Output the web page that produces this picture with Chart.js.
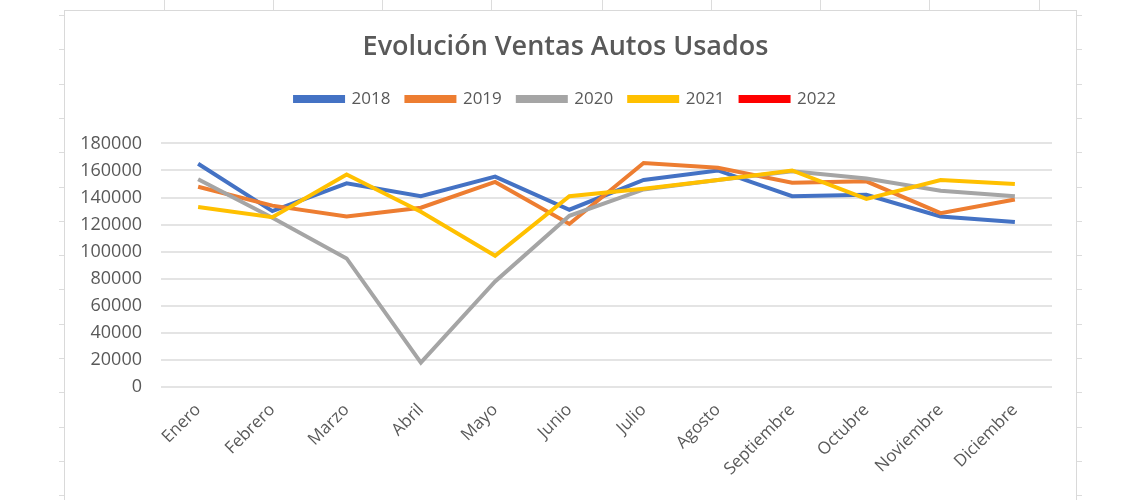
<!DOCTYPE html>
<html lang="es">
<head>
<meta charset="utf-8">
<title>Evolución Ventas Autos Usados</title>
<script src="https://cdn.jsdelivr.net/npm/chart.js@4.4.1/dist/chart.umd.min.js"></script>
<style>
    html, body { margin: 0; padding: 0; background: #fff; }
    body { width: 1140px; height: 500px; position: relative; overflow: hidden; }
    .hoja { position: absolute; background: #dcdcdc; }
    #marco {
        position: absolute; left: 64px; top: 10px; width: 1013px; height: 495px;
        border: 1px solid #d9d9d9; box-sizing: border-box; background: #fff;
    }
    #grafico { position: absolute; left: 0; top: 0; width: 1011px; height: 490px; }
</style>
</head>
<body>
<div id="marco"><div id="grafico"><canvas id="chart-ventas"></canvas></div></div>

<script>
// Datos
const meses = ['Enero', 'Febrero', 'Marzo', 'Abril', 'Mayo', 'Junio', 'Julio', 'Agosto', 'Septiembre', 'Octubre', 'Noviembre', 'Diciembre'];
const anios = ['2018', '2019', '2020', '2021', '2022'];
const ventas2018 = [165000, 130000, 150500, 141000, 155500, 131000, 153000, 160000, 141000, 142000, 126000, 122000];
const ventas2019 = [148000, 134000, 126000, 132500, 151500, 120500, 165500, 162000, 151000, 152000, 128500, 138500];
const ventas2020 = [153500, 125000, 95000, 18000, 78000, 126500, 146000, 153000, 159500, 154000, 145000, 141000];
const ventas2021 = [133000, 125500, 157000, 129500, 97000, 141000, 146500, 153000, 160000, 139000, 153000, 150000];
const ventas2022 = [];
const yMin = 0;
const yMax = 180000;
const yPaso = 20000;

const colores = ['#4472C4', '#ED7D31', '#A5A5A5', '#FFC000', '#FF0000'];
const series = [ventas2018, ventas2019, ventas2020, ventas2021, ventas2022];
const gris = '#595959';
const fuente = "'Open Sans', 'Noto Sans', sans-serif";

// Lineas de la hoja de cálculo alrededor del gráfico (decorativo)
function dibujarHoja() {
    const columnas = [164, 273, 382, 491, 602, 711, 820, 929, 1039];
    columnas.forEach(x => {
        const d = document.createElement('div');
        d.className = 'hoja';
        d.style.cssText = `left:${x}px;top:0;width:1px;height:10px;`;
        document.body.appendChild(d);
    });
    for (let y = 15; y < 500; y += 34.3) {
        [59, 1077].forEach(x => {
            const d = document.createElement('div');
            d.className = 'hoja';
            d.style.cssText = `left:${x}px;top:${Math.round(y)}px;width:5px;height:1px;`;
            document.body.appendChild(d);
        });
    }
}
dibujarHoja();

const datasets = anios.map((anio, i) => ({
    label: anio,
    data: series[i],
    borderColor: colores[i],
    backgroundColor: colores[i],
    borderWidth: 4,
    pointRadius: 0,
    pointHoverRadius: 0,
    tension: 0,
    fill: false,
    order: anios.length - i   // como Excel: la última serie queda encima
}));

new Chart(document.getElementById('chart-ventas'), {
    type: 'line',
    data: { labels: meses, datasets },
    options: {
        responsive: true,
        maintainAspectRatio: false,
        animation: false,
        layout: { padding: { left: 14, right: 24, top: 0, bottom: 0 } },
        plugins: {
            title: {
                display: true,
                text: 'Evolución Ventas Autos Usados',
                color: gris,
                font: { family: fuente, size: 27, weight: '600' },
                padding: { top: 20, bottom: 11 }
            },
            subtitle: {
                // separador entre la leyenda y el área del gráfico
                display: true,
                text: '',
                weight: 500,
                font: { size: 10 },
                padding: { top: 0, bottom: 14 }
            },
            legend: {
                position: 'top',
                labels: {
                    color: gris,
                    font: { family: fuente, size: 17 },
                    boxWidth: 48,
                    boxHeight: 4,
                    padding: 16,
                    sort: (a, b) => a.datasetIndex - b.datasetIndex
                }
            },
            tooltip: { enabled: false }
        },
        scales: {
            x: {
                offset: true,
                grid: { display: false, drawTicks: false },
                border: { display: false },
                ticks: {
                    color: gris,
                    font: { family: fuente, size: 17 },
                    maxRotation: 45,
                    minRotation: 45,
                    padding: 13,
                    autoSkip: false
                },
                afterFit: s => { s.height = 114; }
            },
            y: {
                min: yMin,
                max: yMax,
                grid: { color: '#e4e4e4', lineWidth: 2, drawTicks: false },
                border: { display: false },
                ticks: {
                    stepSize: yPaso,
                    color: gris,
                    font: { family: fuente, size: 18 },
                    padding: 19,
                    callback: v => String(v)
                },
                afterFit: s => { s.width = 82; }
            }
        }
    }
});
</script>
</body>
</html>
